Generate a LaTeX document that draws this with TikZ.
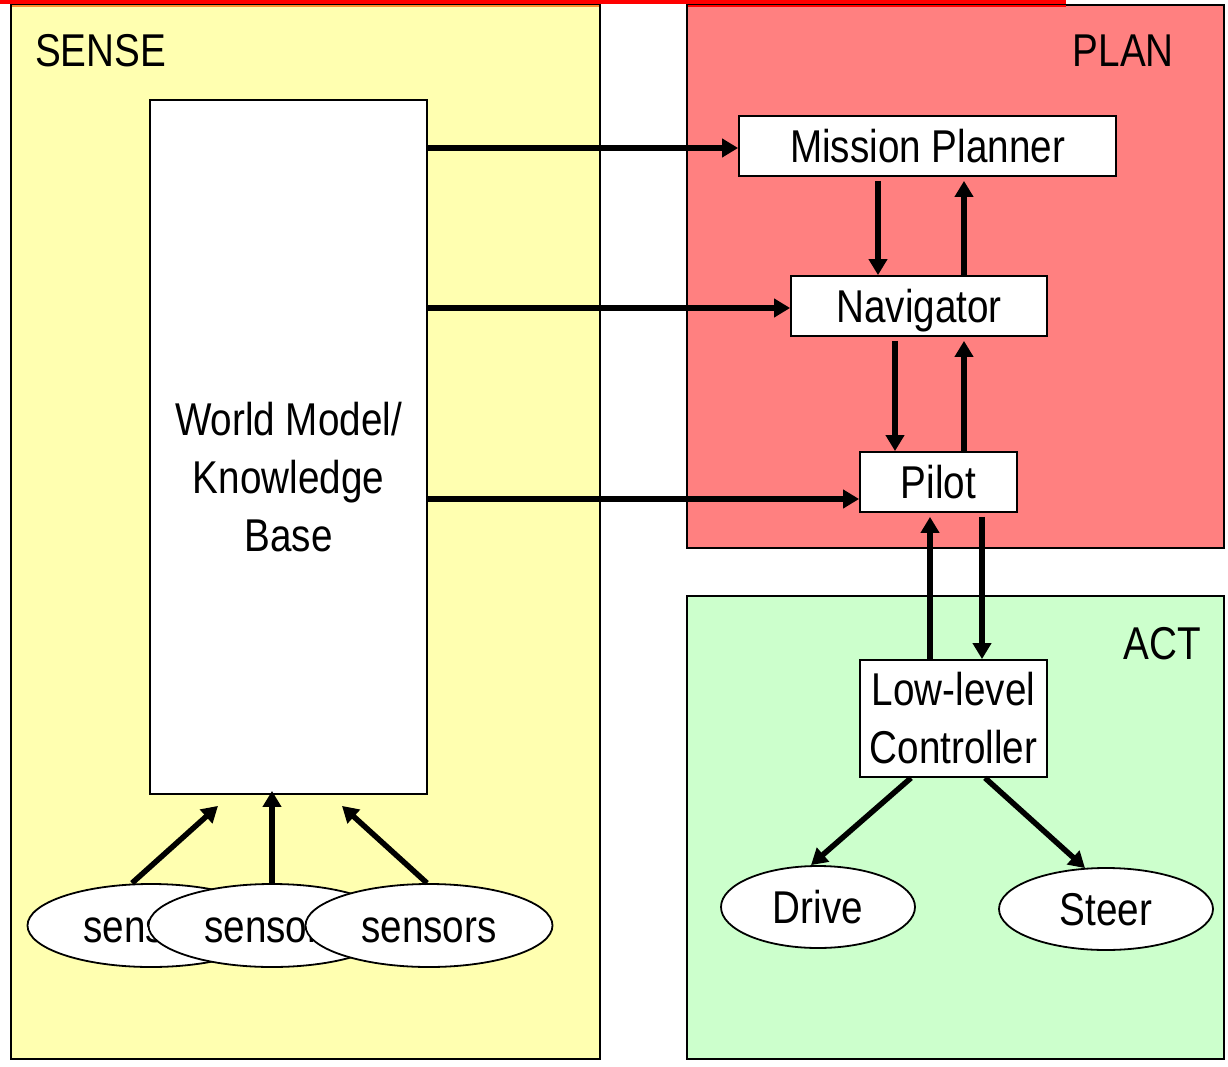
\documentclass[tikz,border=0pt]{standalone}
\usepackage{fontspec}
\setmainfont{Liberation Sans}[FakeStretch=0.84]
\usetikzlibrary{arrows.meta,shapes.geometric}

\definecolor{senseyellow}{HTML}{FFFFB0}
\definecolor{planred}{HTML}{FF8080}
\definecolor{actgreen}{HTML}{CCFFCC}
\definecolor{stripeorange}{HTML}{FF8C30}

\tikzset{
  region/.style={draw=black, line width=1.8pt},
  regionlabel/.style={inner sep=0pt, font=\fontsize{46}{58}\selectfont},
  module/.style={draw=black, fill=white, line width=1.8pt, inner sep=0pt,
    font=\fontsize{46}{58}\selectfont, align=center},
  oneline/.style={text height=33pt, text depth=0pt},
  device/.style={ellipse, draw=black, fill=white, line width=1.8pt, inner sep=0pt,
    text height=33pt, text depth=0pt, font=\fontsize{46}{58}\selectfont},
  flow/.style={line width=5.5pt, -{Triangle[length=16pt,width=18pt]}},
}

\begin{document}
\begin{tikzpicture}[x=1pt,y=-1pt]
  \useasboundingbox (0,0) rectangle (1228,1067);

  % the three layers
  \draw[region, fill=senseyellow] (11,5) rectangle (600,1059);
  \draw[region, fill=planred] (687,5) rectangle (1224,548);
  \draw[region, fill=actgreen] (687,596) rectangle (1224,1059);

  % red rule along the top edge
  \fill[red] (0,0.5) rectangle (1066,4);
  \fill[stripeorange] (12,4.6) rectangle (599,7.5);
  \fill[red] (688,4.6) rectangle (1066,7.5);

  \node[regionlabel, anchor=base west] (sense) at (35,67) {SENSE};
  \node[regionlabel, anchor=base east] (plan) at (1174,67) {PLAN};
  \node[regionlabel, anchor=base east] (act) at (1201,659) {ACT};

  % world model
  \node[module, minimum width=277pt, minimum height=694pt] (wm) at (288.5,447) {};
  \node[inner sep=0pt, align=center, font=\fontsize{46}{58}\selectfont] (wmtext) at (288.5,477)
    {World Model/\\Knowledge\\Base};

  % planning hierarchy
  \node[module, oneline, minimum width=377pt, minimum height=60pt] (mp) at (927.5,146) {Mission Planner};
  \node[module, oneline, minimum width=256pt, minimum height=60pt] (nav) at (919,306) {Navigator};
  \node[module, oneline, minimum width=157pt, minimum height=60pt] (pilot) at (938.5,482) {Pilot};

  % acting
  \node[module, minimum width=187pt, minimum height=117pt] (llc) at (953.5,718.5) {Low-level\\Controller};
  \node[device, minimum width=194pt, minimum height=82pt] (drive) at (818,907) {Drive};
  \node[device, minimum width=214pt, minimum height=82pt] (steer) at (1106,909) {Steer};

  % sensors
  \node[device, minimum width=247pt, minimum height=83pt] (s1) at (151,925.5) {sensors};
  \node[device, minimum width=247pt, minimum height=83pt] (s2) at (272,925.5) {sensors};
  \node[device, minimum width=247pt, minimum height=83pt] (s3) at (429,925.5) {sensors};

  % world model feeds every planning level
  \draw[flow] ([yshift=-2pt]wm.east |- mp.west) -- ([yshift=-2pt]mp.west);
  \draw[flow] ([yshift=-2pt]wm.east |- nav.west) -- ([yshift=-2pt]nav.west);
  \draw[flow] ([yshift=-17pt]wm.east |- pilot.west) -- ([yshift=-17pt]pilot.west);

  % planner <-> navigator
  \draw[flow] ([shift={(-49.5pt,-4pt)}]mp.south) -- ([xshift=-41pt]nav.north);
  \draw[flow] ([xshift=45pt]nav.north) -- ([shift={(36.5pt,-4pt)}]mp.south);

  % navigator <-> pilot
  \draw[flow] ([shift={(-24pt,-4pt)}]nav.south) -- ([xshift=-43.5pt]pilot.north);
  \draw[flow] ([xshift=25.5pt]pilot.north) -- ([shift={(45pt,-4pt)}]nav.south);

  % pilot <-> low-level controller
  \draw[flow] ([xshift=-23.5pt]llc.north) -- ([shift={(-8.5pt,-4pt)}]pilot.south);
  \draw[flow] ([shift={(43.5pt,-4pt)}]pilot.south) -- ([xshift=28.5pt]llc.north);

  % controller drives the actuators
  \draw[flow] ([xshift=-42.5pt]llc.south) -- ([xshift=-7pt]drive.north);
  \draw[flow] ([xshift=31.5pt]llc.south) -- ([shift={(-21pt,-1pt)}]steer.north);

  % sensors feed the world model
  \draw[flow] ([xshift=-19pt]s1.north) -- ([shift={(-70.5pt,-11pt)}]wm.south);
  \draw[flow] (s2.north) -- ([shift={(-16.5pt,4pt)}]wm.south);
  \draw[flow] ([xshift=-2pt]s3.north) -- ([shift={(53.5pt,-11pt)}]wm.south);
\end{tikzpicture}
\end{document}
